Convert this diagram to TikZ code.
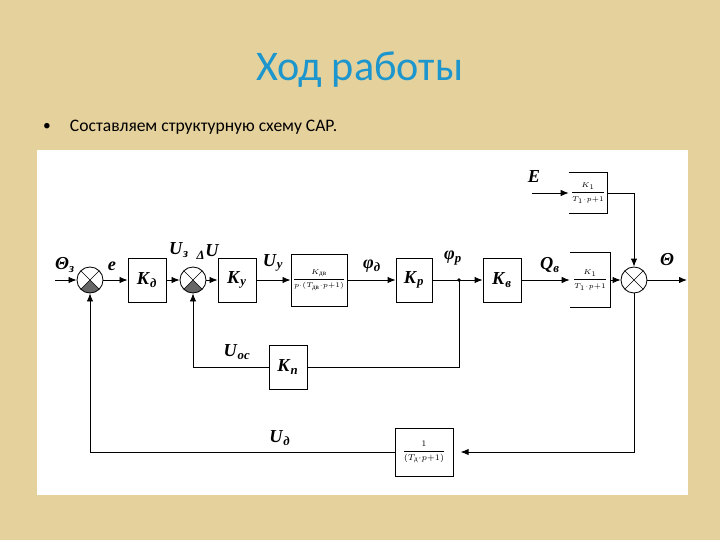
\documentclass[tikz,border=0pt]{standalone}
\usepackage{amsmath}
\usepackage{fontspec}
\setmainfont{Liberation Serif}
\newfontfamily\slidefont{Carlito}
\usetikzlibrary{positioning,arrows.meta}
\definecolor{paper}{RGB}{229,209,155}
\definecolor{titleblue}{RGB}{28,150,205}
\newcommand{\sig}[2]{\textbf{\textit{#1}}\textsubscript{\textbf{\textit{#2}}}}

\begin{document}
\begin{tikzpicture}[
  x=0.025cm, y=-0.025cm,
  blk/.style={rectangle,draw,line width=0.6pt,inner sep=1pt,minimum width=9.5mm,minimum height=11mm,font=\fontsize{13}{15}\selectfont},
  openblk/.style={rectangle,inner sep=1pt,font=\fontsize{5.5}{6.5}\selectfont},
  sum/.style={circle,draw,line width=0.6pt,minimum size=6.5mm,inner sep=0pt,
    path picture={\draw[line width=0.4pt] (path picture bounding box.north west)--(path picture bounding box.south east)
      (path picture bounding box.north east)--(path picture bounding box.south west);}},
  dsum/.style={circle,draw,line width=0.6pt,minimum size=6.5mm,inner sep=0pt,
    path picture={\fill[gray!80!black] (path picture bounding box.center)--(path picture bounding box.south west)--(path picture bounding box.south east)--cycle;
      \draw[line width=0.4pt] (path picture bounding box.north west)--(path picture bounding box.south east)
      (path picture bounding box.north east)--(path picture bounding box.south west);}},
  sgn/.style={font=\fontsize{13}{15}\selectfont,inner sep=1pt},
  line/.style={line width=0.6pt},
  arrow/.style={-{Latex[length=2mm,width=1.6mm]},line width=0.6pt}
]
% slide background
\fill[paper] (0,0) rectangle (720,540);
\fill[white] (37,150) rectangle (688,495);
\useasboundingbox (0,0) rectangle (720,540);
\node[text=titleblue,font=\slidefont\fontsize{30}{36}\selectfont] (title) at (360,70) {Ход работы};
\node[font=\slidefont\fontsize{11}{15}\selectfont] (dot) at (47,127) {•};
\node[font=\slidefont\fontsize{12.5}{15}\selectfont,anchor=west] (task) at (65,127) {Составляем структурную схему САР.};

% forward path
\coordinate (in) at (55,280);
\node[dsum] (s1) at (90,280) {};
\node[blk] (kd) at (147,280) {\sig{K}{д}};
\node[dsum] (s2) at (193,280) {};
\node[blk] (ky) at (237,280) {\sig{K}{y}};
\node[blk,minimum width=12.5mm,minimum height=13mm,font=\fontsize{5}{6}\selectfont] (dv) at (319,280)
  {$\dfrac{K_{\text{дв}}}{p{\cdot}(T_{\text{дв}}{\cdot}p{+}1)}$};
\node[blk,minimum width=9mm] (kp) at (414,280) {\sig{K}{p}};
\coordinate (jp) at (459,280);
\node[blk] (kv) at (502,280) {\sig{K}{в}};
\node[openblk,minimum width=10mm,minimum height=13.5mm] (ob) at (590,280) {$\dfrac{K_1}{T_1{\cdot}p{+}1}$};
\node[sum] (s3) at (634,280) {};
\coordinate (out) at (687,280);

% disturbance
\coordinate (ein) at (532,193);
\node[openblk,minimum width=9.25mm,minimum height=10mm] (ev) at (588,193) {$\dfrac{K_1}{T_1{\cdot}p{+}1}$};

% feedback blocks
\node[blk] (kn) at (288,367) {\sig{K}{п}};
\node[blk,minimum width=14.5mm,minimum height=12mm,font=\fontsize{6}{7}\selectfont] (fb) at (424,452)
  {$\dfrac{1}{(T_{\text{д}}{\cdot}p{+}1)}$};

% signal names
\node[sgn] (lthz) at (65,265) {\sig{Θ}{з}};
\node[sgn] (le) at (112,266) {\textbf{\textit{e}}};
\node[sgn] (lu3) at (179,250) {\sig{U}{з}};
\node[sgn] (ldu) at (208,252) {\textsubscript{\textbf{\textit{Δ}}}\textbf{\textit{U}}};
\node[sgn] (luy) at (273,263) {\sig{U}{y}};
\node[sgn] (lphd) at (372,266) {\sig{φ}{д}};
\node[sgn] (lphp) at (453,258) {\sig{φ}{p}};
\node[sgn] (lqv) at (550,265) {\sig{Q}{в}};
\node[sgn] (lE) at (534,177) {\textbf{\textit{E}}};
\node[sgn] (lth) at (667,260) {\textbf{\textit{Θ}}};
\node[sgn] (luoc) at (237,352) {\sig{U}{ос}};
\node[sgn] (lud) at (280,438) {\sig{U}{д}};

% connectors
\draw[arrow] (in) -- (s1);
\draw[arrow] (s1) -- (kd);
\draw[arrow] (kd) -- (s2);
\draw[arrow] (s2) -- (ky);
\draw[arrow] (ky) -- (dv);
\draw[arrow] (dv) -- (kp);
\draw[arrow] (kp) -- (kv);
\fill (jp) circle (1.3pt);
\draw[arrow] (kv) -- (ob.west);
\draw[line] (ob.north west) -- (ob.north east) -- (ob.south east) -- (ob.south west);
\draw[arrow] (ob.east) -- (s3);
\draw[arrow] (s3) -- (out);
\draw[arrow] (ein) -- (ev.west);
\draw[line] (ev.north west) -- (ev.north east) -- (ev.south east) -- (ev.south west);
\draw[arrow] (ev.east) -| (s3.north);
\draw[line] (jp) |- (kn);
\draw[arrow] (kn) -| (s2);
\draw[arrow,shorten >=1.8mm] (s3) |- (fb);
\draw[arrow] (fb) -| (s1);
\end{tikzpicture}
\end{document}
